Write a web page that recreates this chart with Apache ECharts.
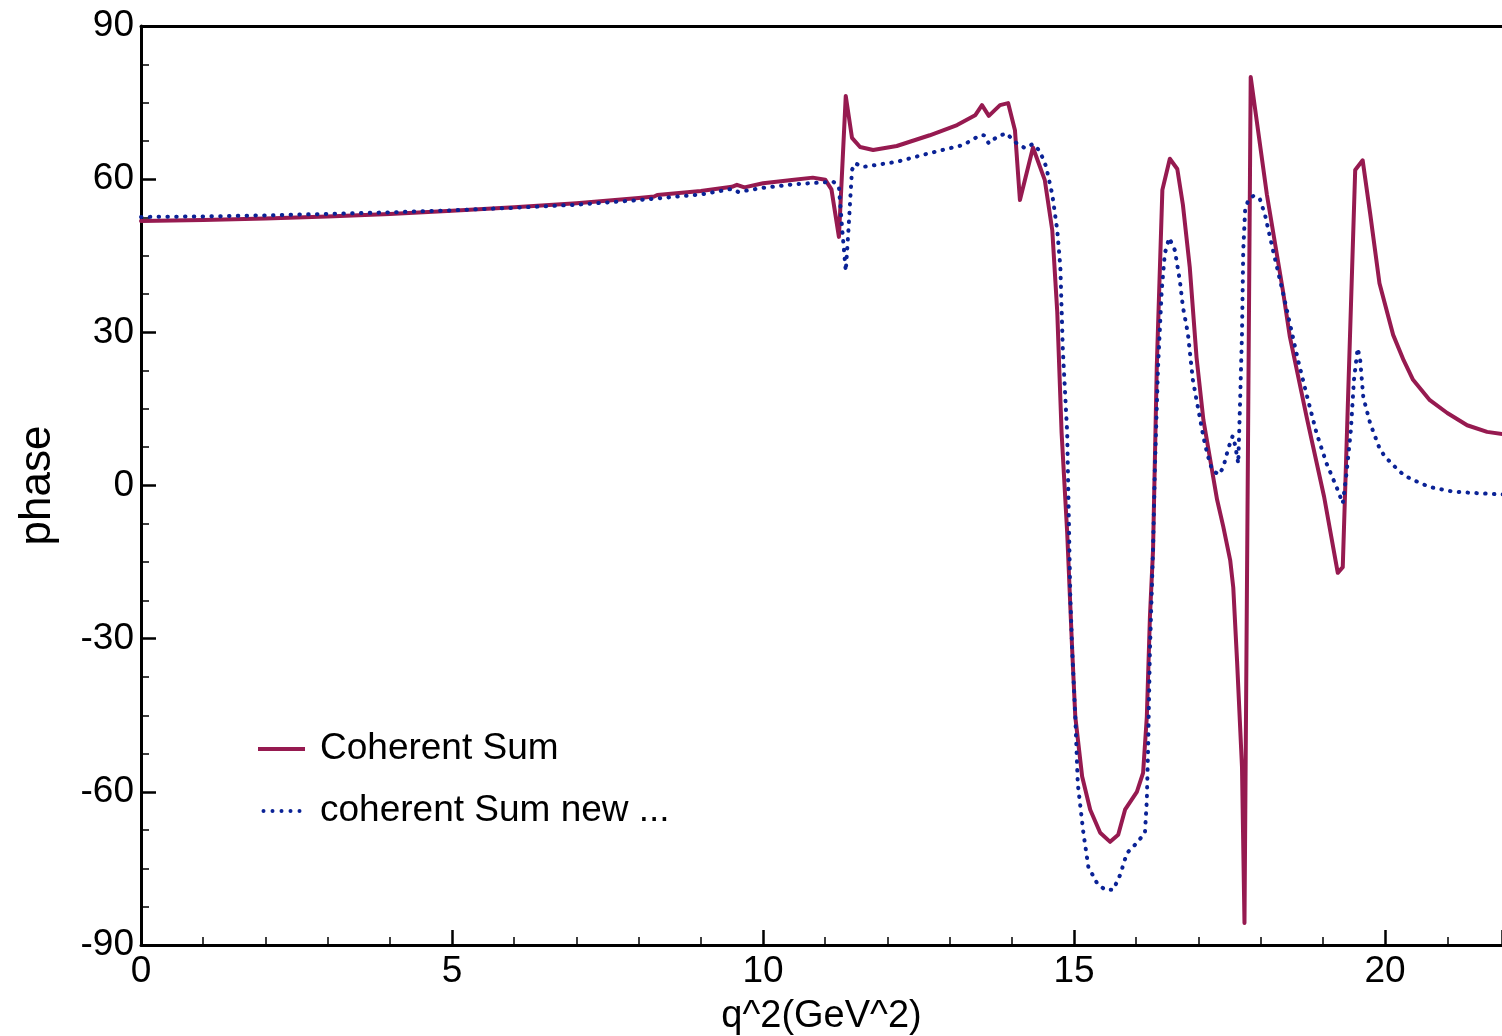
<!DOCTYPE html>
<html>
<head>
<meta charset="utf-8">
<script src="https://cdn.jsdelivr.net/npm/echarts@6/dist/echarts.min.js"></script>
<style>
html,body{margin:0;padding:0;background:#fff;}
#c{width:1502px;height:1036px;}
</style>
</head>
<body>
<div id="c"></div>
<script>
// ---- data ----
var seriesNames = ['Coherent Sum', 'coherent Sum new ...'];
var xTickLabels = ['0', '5', '10', '15', '20'];
var yTickLabels = ['-90', '-60', '-30', '0', '30', '60', '90'];

var qSolid = [0, 1, 2, 3, 4, 5, 6, 7, 8, 8.25, 8.3, 9, 9.5, 9.58, 9.7, 10, 10.5, 10.8, 11.0, 11.1, 11.22,
  11.33, 11.43, 11.56, 11.77, 12.15, 12.68, 13.12, 13.41, 13.52, 13.63, 13.81, 13.94, 14.05, 14.13,
  14.34, 14.53, 14.65, 14.73, 14.8, 14.89, 14.97, 15.02, 15.13, 15.26, 15.42, 15.58, 15.71, 15.82,
  16.01, 16.11, 16.17, 16.22, 16.27, 16.33, 16.42, 16.54, 16.66, 16.75, 16.86, 16.97, 17.08, 17.19,
  17.3, 17.4, 17.51, 17.56, 17.62, 17.7, 17.74, 17.84, 18.1, 18.36, 18.47, 18.75, 19.02, 19.24,
  19.32, 19.52, 19.64, 19.76, 19.91, 20.13, 20.3, 20.45, 20.72, 21.0, 21.32, 21.64, 22.0];
var phaseSolid = [51.8, 52.0, 52.3, 52.7, 53.2, 53.8, 54.5, 55.3, 56.3, 56.6, 56.9, 57.7, 58.5, 58.9, 58.4, 59.2, 59.9, 60.3, 59.9, 58.0, 48.7,
  76.3, 68.1, 66.3, 65.7, 66.5, 68.6, 70.6, 72.5, 74.5, 72.4, 74.5, 74.9, 69.6, 55.9,
  66.2, 59.8, 50.0, 34.0, 10.3, -9.3, -32.2, -45.3, -57.0, -63.5, -68.0, -69.8, -68.4, -63.5,
  -60.0, -56.3, -45.3, -25.7, -12.6, 23.2, 57.9, 64.0, 62.0, 55.0, 42.8, 25.0, 12.8, 5.0,
  -2.8, -8.1, -14.6, -20.0, -34.2, -55.1, -85.7, 80.0, 57.0, 38.0, 29.1, 12.8, -2.2, -17.1,
  -16.0, 61.8, 63.7, 53.3, 39.6, 29.5, 24.5, 20.7, 16.7, 14.2, 11.8, 10.5, 9.9];

var qDotted = [0, 1, 2, 3, 4, 5, 6, 7, 8, 9, 9.5, 9.6, 10, 10.5, 11.13, 11.22, 11.27, 11.33, 11.37,
  11.43, 11.48, 11.61, 12.15, 12.68, 13.22, 13.49, 13.55, 13.63, 13.76, 13.91, 14.08, 14.21, 14.34,
  14.45, 14.55, 14.65, 14.73, 14.78, 14.82, 14.89, 14.94, 14.97, 15.02, 15.06, 15.15, 15.23, 15.37,
  15.5, 15.63, 15.74, 15.85, 16.01, 16.14, 16.17, 16.19, 16.22, 16.27, 16.3, 16.35, 16.41, 16.46,
  16.53, 16.62, 16.7, 16.75, 16.83, 16.91, 16.97, 17.03, 17.08, 17.14, 17.22, 17.33, 17.4, 17.48,
  17.55, 17.59, 17.64, 17.67, 17.7, 17.72, 17.75, 17.8, 17.89, 17.99, 18.07, 18.2, 18.36, 18.47,
  18.6, 18.75, 18.9, 19.06, 19.22, 19.32, 19.38, 19.45, 19.5, 19.56, 19.6, 19.65, 19.76, 19.91,
  20.0, 20.11, 20.21, 20.32, 20.45, 20.6, 20.72, 20.88, 21.05, 21.2, 21.48, 21.8, 22.0];
var phaseDotted = [52.6, 52.7, 52.9, 53.2, 53.5, 53.9, 54.4, 55.0, 55.9, 57.0, 58.1, 57.5, 58.3, 59.0, 59.5, 58.5, 50.6, 42.0, 49.4,
  61.8, 63.1, 62.4, 63.4, 65.1, 66.7, 68.6, 68.6, 67.0, 68.3, 69.0, 67.0, 66.1, 66.9,
  65.5, 62.5, 57.0, 50.0, 42.8, 26.5, 10.3, -21.8, -32.2, -45.3, -58.4, -68.0, -74.7, -77.9,
  -79.2, -79.2, -76.3, -72.0, -70.0, -68.0, -61.6, -51.8, -32.2, -12.6, 3.6, 23.2, 38.3, 45.5,
  48.5, 46.1, 40.2, 35.0, 29.8, 20.7, 16.7, 12.8, 9.5, 6.3, 3.0, 2.1, 3.6, 7.3,
  9.7, 7.9, 4.3, 16.7, 29.8, 46.0, 53.9, 55.9, 56.8, 56.0, 53.0, 46.0, 37.7, 31.7,
  24.6, 17.3, 10.2, 4.3, -0.3, -3.5, 2.4, 10.8, 20.7, 26.9, 24.6, 17.3, 12.2, 7.3,
  5.6, 4.3, 3.0, 1.9, 1.1, 0.3, -0.3, -0.7, -1.1, -1.3, -1.5, -1.7, -1.8];

function zip(a, b) { return a.map(function (v, i) { return [v, b[i]]; }); }

// dotted legend sample: five round dots
var dotIcon = 'path://' + [2, 11, 20, 29, 38].map(function (cx) {
  return 'M' + (cx - 2) + ',2a2,2 0 1,0 4,0a2,2 0 1,0 -4,0Z';
}).join('');

var FONT = '"Liberation Sans", Arial, Helvetica, sans-serif';
var XMAX = 21.88;
var COL1 = '#961a50', COL2 = '#0a2296';
var chart = echarts.init(document.getElementById('c'), null, { renderer: 'canvas' });

chart.setOption({
  animation: false,
  backgroundColor: '#ffffff',
  grid: { left: 141, top: 26, right: 0, bottom: 91, containLabel: false, outerBoundsMode: 'none' },
  legend: {
    orient: 'vertical',
    left: 258,
    top: 729,
    padding: 0,
    itemWidth: 47,
    itemHeight: 4,
    itemGap: 22,
    symbolKeepAspect: true,
    itemStyle: { borderWidth: 0 },
    data: [
      { name: seriesNames[0], icon: 'rect' },
      { name: seriesNames[1], icon: dotIcon }
    ],
    textStyle: { fontFamily: FONT, fontSize: 37, lineHeight: 40, color: '#000', padding: [0, 0, 0, 10] }
  },
  xAxis: [{
    type: 'value',
    min: 0, max: XMAX, interval: 5,
    position: 'bottom',
    name: 'q^2(GeV^2)',
    nameLocation: 'middle',
    nameGap: 53,
    nameTextStyle: { fontFamily: FONT, fontSize: 38, color: '#000' },
    axisLine: { show: true, onZero: false, lineStyle: { color: '#000', width: 3 } },
    axisTick: { show: true, inside: true, length: 15, lineStyle: { color: '#000', width: 2.5 } },
    minorTick: { show: true, splitNumber: 5, length: 8, lineStyle: { color: '#000', width: 1.5 } },
    axisLabel: {
      fontFamily: FONT, fontSize: 37, color: '#000', margin: 8,
      showMaxLabel: false,
      formatter: function (v) { var s = String(v); return xTickLabels.indexOf(s) >= 0 ? s : ''; }
    },
    splitLine: { show: false }
  }, {
    type: 'value',
    min: 0, max: XMAX,
    position: 'top',
    axisLine: { show: true, onZero: false, lineStyle: { color: '#000', width: 3 } },
    axisTick: { show: false },
    axisLabel: { show: false },
    splitLine: { show: false }
  }],
  yAxis: {
    type: 'value',
    min: -90, max: 90, interval: 30,
    name: 'phase',
    nameLocation: 'middle',
    nameGap: 81,
    nameTextStyle: { fontFamily: FONT, fontSize: 44, color: '#000' },
    axisLine: { show: true, onZero: false, lineStyle: { color: '#000', width: 3 } },
    axisTick: { show: true, inside: true, length: 15, lineStyle: { color: '#000', width: 2.5 } },
    minorTick: { show: true, splitNumber: 4, length: 8, lineStyle: { color: '#000', width: 1.5 } },
    axisLabel: {
      fontFamily: FONT, fontSize: 37, color: '#000', margin: 7,
      formatter: function (v) { var s = String(v); return yTickLabels.indexOf(s) >= 0 ? s : ''; }
    },
    splitLine: { show: false }
  },
  series: [{
    name: seriesNames[0],
    type: 'line',
    xAxisIndex: 0,
    data: zip(qSolid, phaseSolid),
    symbol: 'none',
    smooth: false,
    color: COL1,
    itemStyle: { color: COL1 },
    lineStyle: { color: COL1, width: 4, join: 'round', cap: 'round' },
    z: 3
  }, {
    name: seriesNames[1],
    type: 'line',
    xAxisIndex: 0,
    data: zip(qDotted, phaseDotted),
    symbol: 'none',
    smooth: false,
    color: COL2,
    itemStyle: { color: COL2 },
    lineStyle: { color: COL2, width: 4, type: [0.5, 8.3], cap: 'round' },
    z: 4
  }]
});
</script>
</body>
</html>
